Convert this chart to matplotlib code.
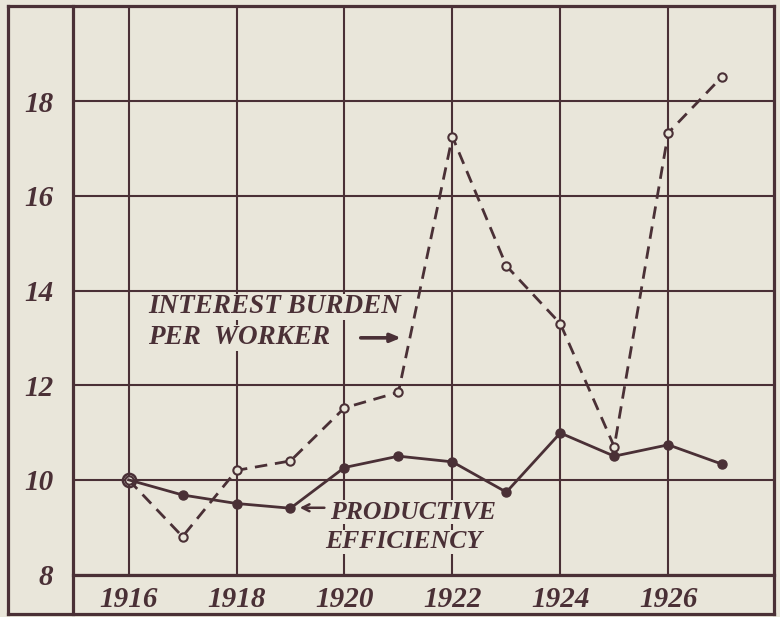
import matplotlib
matplotlib.use("Agg")
import matplotlib.pyplot as plt
from matplotlib.lines import Line2D

# ---- data ----
years = [1916, 1917, 1918, 1919, 1920, 1921, 1922, 1923, 1924, 1925, 1926, 1927]
interest_burden = [10.0, 8.8, 10.2, 10.4, 11.52, 11.85, 17.25, 14.52, 13.3, 10.7, 17.33, 18.52]
productive_eff = [10.0, 9.68, 9.5, 9.4, 10.26, 10.5, 10.38, 9.74, 10.99, 10.5, 10.74, 10.33]
xticks = [1916, 1918, 1920, 1922, 1924, 1926]
yticks = [8, 10, 12, 14, 16, 18]

BG = "#e9e6da"
INK = "#4a3036"
W, H = 780, 617

fig = plt.figure(figsize=(W / 100, H / 100), dpi=100, facecolor=BG)

def fx(px):
    return px / W

def fy(py):
    return 1 - py / H

ax = fig.add_axes([fx(73), fy(574.5), fx(774) - fx(73), fy(6.5) - fy(574.5)])
ax.set_facecolor(BG)
ax.set_xlim(1914.97, 1927.96)
ax.set_ylim(8, 20)
for s in ax.spines.values():
    s.set_visible(False)

ax.set_xticks(xticks)
ax.set_yticks(yticks)
ax.grid(True, color=INK, lw=1.5, zorder=0)
ax.set_axisbelow(True)
ax.tick_params(length=0, colors=INK)
tfont = dict(family="Liberation Serif", style="italic", weight="bold", size=21, color=INK)
ax.set_xticklabels([str(v) for v in xticks], **tfont)
ax.set_yticklabels([str(v) for v in yticks], **tfont)
ax.tick_params(axis="x", pad=8)
ax.tick_params(axis="y", pad=14)

# frame lines
lw_frame = 2.3
frame = [
    ((8, 774), (6, 6)),
    ((8, 774), (614, 614)),
    ((8, 8), (6, 614)),
    ((774, 774), (6, 614)),
    ((73, 73), (6, 614)),
    ((73, 774), (574.5, 574.5)),
]
for xs, ys in frame:
    fig.add_artist(Line2D([fx(x) for x in xs], [fy(y) for y in ys], color=INK, lw=lw_frame))

# series
ax.plot(years, interest_burden, color=INK, lw=2.0, ls=(0, (4.5, 2.8)), marker="o", ms=6,
        mfc=BG, mec=INK, mew=1.5, zorder=3)
ax.plot(years, productive_eff, color=INK, lw=2.0, zorder=4)
ax.plot(years[1:], productive_eff[1:], ls="none", marker="o", ms=6.5, color=INK, zorder=5)
ax.plot(years[:1], productive_eff[:1], ls="none", marker="o", ms=9.5, mfc="none", mec=INK, mew=1.8, zorder=5)

# annotations
afont = dict(family="Liberation Serif", style="italic", weight="bold", color=INK)
bb = dict(facecolor=BG, edgecolor="none", pad=0.3)
ax.text(1916.36, 13.66, "INTEREST BURDEN", ha="left", va="center", bbox=bb, zorder=6, size=19.5, **afont)
ax.text(1916.36, 13.0, "PER  WORKER", ha="left", va="center", bbox=bb, zorder=6, size=19.5, **afont)
ax.annotate("", xy=(1921.1, 13.0), xytext=(1920.25, 13.0),
            arrowprops=dict(arrowstyle="-|>,head_length=0.6,head_width=0.25", color=INK, lw=2.6), zorder=6)

ax.text(1919.73, 9.32, "PRODUCTIVE", ha="left", va="center", bbox=bb, zorder=6, size=18.5, **afont)
ax.text(1919.64, 8.69, "EFFICIENCY", ha="left", va="center", bbox=bb, zorder=6, size=18.5, **afont)
ax.annotate("", xy=(1919.12, 9.41), xytext=(1919.68, 9.41),
            arrowprops=dict(arrowstyle="->,head_length=0.5,head_width=0.25", color=INK, lw=1.8), zorder=6)

fig.savefig("out.png", dpi=100, facecolor=BG)
